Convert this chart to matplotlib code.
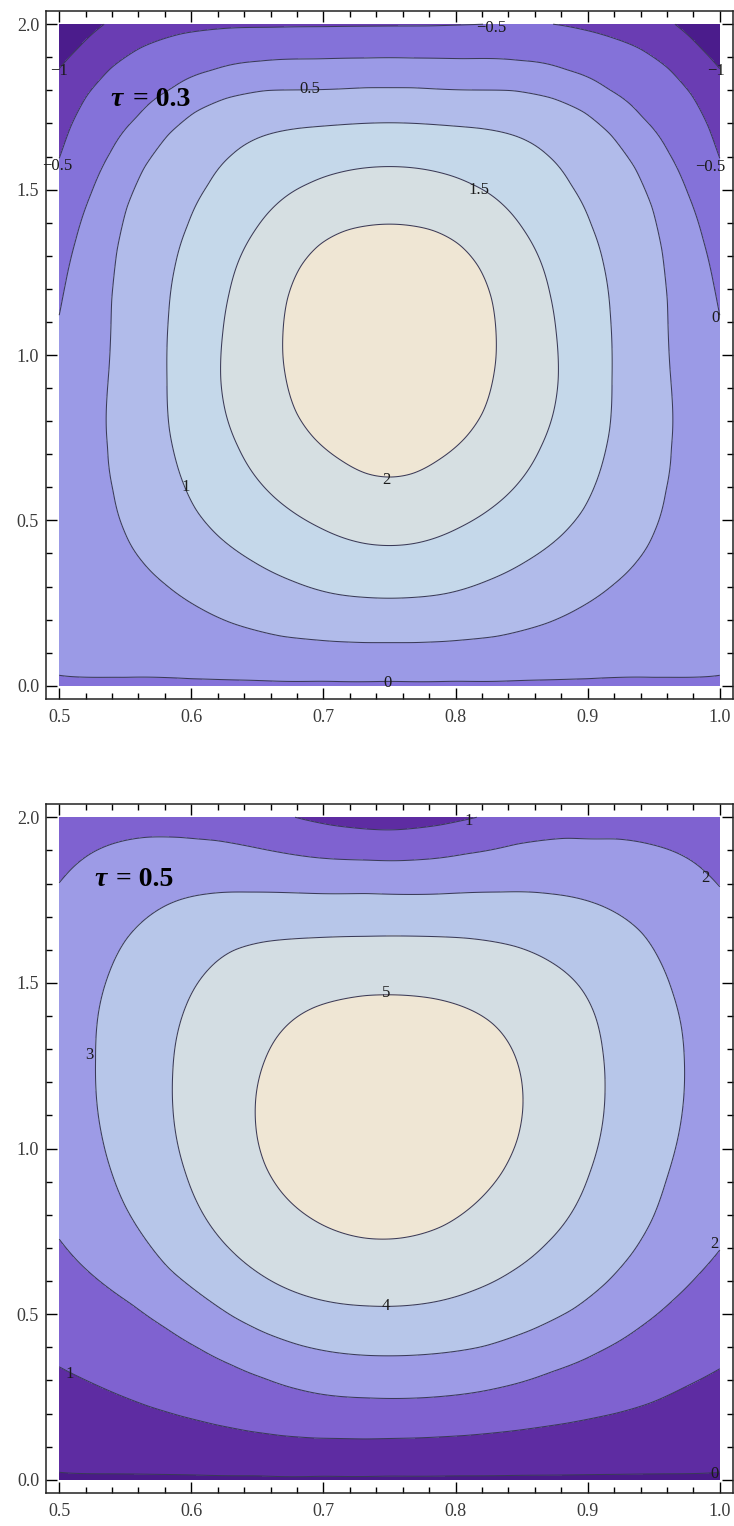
import numpy as np
import matplotlib
matplotlib.use("Agg")
import matplotlib.pyplot as plt
from matplotlib.ticker import MultipleLocator, FormatStrFormatter
from matplotlib.offsetbox import TextArea, HPacker, AnnotationBbox

# ---- values ----------------------------------------------------------------
# points (x, y) lying on each contour line, per panel and level

# tau = 0.3 panel
TOP_LEVELS = [-1, -0.5, 0, 0.5, 1, 1.5, 2]
TOP_M1 = [(0.535, 2.0), (0.515, 1.924), (0.5, 1.859),
          (0.965, 2.0), (0.985, 1.924), (1.0, 1.859)]
TOP_M05 = [(0.5, 1.585), (0.508, 1.692), (0.52, 1.793), (0.538, 1.874), (0.561, 1.934),
           (0.593, 1.975), (0.631, 1.99), (0.7, 1.992), (0.78, 1.994), (0.83, 2.0),
           (1.0, 1.585), (0.992, 1.692), (0.98, 1.793), (0.962, 1.874), (0.939, 1.934),
           (0.907, 1.975), (0.878, 2.0)]
TOP_0 = [(0.5, 1.106), (0.505, 1.217), (0.513, 1.348), (0.525, 1.49), (0.54, 1.611),
         (0.561, 1.712), (0.586, 1.793), (0.616, 1.853), (0.651, 1.884), (0.694, 1.894),
         (0.732, 1.896),
         (1.0, 1.106), (0.995, 1.217), (0.987, 1.348), (0.975, 1.49), (0.96, 1.611),
         (0.939, 1.712), (0.914, 1.793), (0.884, 1.853), (0.849, 1.884), (0.806, 1.894),
         (0.768, 1.896),
         (0.5, 0.015), (0.55, 0.013), (0.6, 0.012), (0.65, 0.011), (0.7, 0.01),
         (0.75, 0.01), (0.8, 0.01), (0.85, 0.011), (0.9, 0.012), (0.95, 0.013), (1.0, 0.015)]
TOP_05 = [(0.538, 0.965), (0.539, 1.167), (0.543, 1.318), (0.55, 1.449), (0.563, 1.571),
          (0.581, 1.672), (0.601, 1.742), (0.626, 1.783), (0.656, 1.805), (0.732, 1.811),
          (0.538, 0.722), (0.542, 0.591), (0.55, 0.47), (0.563, 0.379), (0.581, 0.308),
          (0.606, 0.237), (0.631, 0.187), (0.669, 0.146), (0.707, 0.133), (0.732, 0.129),
          (0.962, 0.965), (0.961, 1.167), (0.957, 1.318), (0.95, 1.449), (0.937, 1.571),
          (0.919, 1.672), (0.899, 1.742), (0.874, 1.783), (0.844, 1.805), (0.768, 1.811),
          (0.962, 0.722), (0.958, 0.591), (0.95, 0.47), (0.937, 0.379), (0.919, 0.308),
          (0.894, 0.237), (0.869, 0.187), (0.831, 0.146), (0.793, 0.133), (0.768, 0.129)]
TOP_1 = [(0.582, 0.924), (0.583, 1.116), (0.588, 1.268), (0.598, 1.389), (0.614, 1.51),
         (0.631, 1.601), (0.654, 1.662), (0.682, 1.687), (0.732, 1.7),
         (0.583, 0.773), (0.591, 0.641), (0.603, 0.53), (0.621, 0.449), (0.646, 0.379),
         (0.677, 0.318), (0.707, 0.278), (0.732, 0.268),
         (0.918, 0.924), (0.917, 1.116), (0.912, 1.268), (0.902, 1.389), (0.886, 1.51),
         (0.869, 1.601), (0.846, 1.662), (0.818, 1.687), (0.768, 1.7),
         (0.917, 0.773), (0.909, 0.641), (0.897, 0.53), (0.879, 0.449), (0.854, 0.379),
         (0.823, 0.318), (0.793, 0.278), (0.768, 0.268)]
TOP_15 = [(0.622, 0.924), (0.624, 1.066), (0.629, 1.187), (0.636, 1.288), (0.649, 1.379),
          (0.666, 1.46), (0.689, 1.515), (0.712, 1.551), (0.732, 1.566),
          (0.626, 0.823), (0.636, 0.722), (0.651, 0.621), (0.672, 0.54), (0.697, 0.48),
          (0.732, 0.429),
          (0.878, 0.924), (0.876, 1.066), (0.871, 1.187), (0.864, 1.288), (0.851, 1.379),
          (0.834, 1.46), (0.811, 1.515), (0.788, 1.551), (0.768, 1.566),
          (0.874, 0.823), (0.864, 0.722), (0.849, 0.621), (0.828, 0.54), (0.803, 0.48),
          (0.768, 0.429)]
TOP_2 = [(0.669, 0.997), (0.672, 1.167), (0.682, 1.268), (0.697, 1.338), (0.717, 1.379),
         (0.732, 1.389), (0.672, 0.924), (0.679, 0.823), (0.694, 0.742), (0.714, 0.682),
         (0.732, 0.639),
         (0.831, 0.997), (0.828, 1.167), (0.818, 1.268), (0.803, 1.338), (0.783, 1.379),
         (0.768, 1.389), (0.828, 0.924), (0.821, 0.823), (0.806, 0.742), (0.786, 0.682),
         (0.768, 0.639), (0.75, 0.63)]
# estimated values away from the lines (x, y, value)
TOP_EXTRA = [(0.75, 1.01, 2.25), (0.5, 2.0, -1.35), (1.0, 2.0, -1.35),
             (0.66, 2.0, -0.55), (0.74, 2.0, -0.53), (0.855, 2.0, -0.47),
             (0.5, 0.3, 0.3), (0.5, 0.7, 0.3), (1.0, 0.3, 0.3), (1.0, 0.7, 0.3),
             (0.5, 0.0, -0.08), (0.55, 0.0, -0.08), (0.6, 0.0, -0.08), (0.65, 0.0, -0.08),
             (0.7, 0.0, -0.08), (0.75, 0.0, -0.08), (0.8, 0.0, -0.08), (0.85, 0.0, -0.08),
             (0.9, 0.0, -0.08), (0.95, 0.0, -0.08), (1.0, 0.0, -0.08)]

# tau = 0.5 panel
BOT_LEVELS = [0, 1, 2, 3, 4, 5]
BOT_0 = [(0.5, 0.014), (0.55, 0.013), (0.6, 0.012), (0.65, 0.011), (0.7, 0.01),
         (0.75, 0.01), (0.8, 0.01), (0.85, 0.011), (0.9, 0.012), (0.95, 0.013), (1.0, 0.014)]
BOT_1 = [(0.677, 2.0), (0.707, 1.974), (0.732, 1.964), (0.757, 1.961), (0.788, 1.974),
         (0.821, 2.0),
         (0.5, 0.34), (0.518, 0.305), (0.543, 0.259), (0.568, 0.219), (0.593, 0.189),
         (0.619, 0.163), (0.644, 0.143), (0.669, 0.13), (0.694, 0.123), (0.732, 0.121),
         (0.77, 0.125), (0.808, 0.133), (0.846, 0.148), (0.884, 0.169), (0.921, 0.199),
         (0.947, 0.229), (0.972, 0.279), (1.0, 0.335)]
BOT_2 = [(0.5, 1.792), (0.518, 1.873), (0.543, 1.923), (0.568, 1.942), (0.593, 1.943),
         (0.619, 1.933), (0.644, 1.913), (0.669, 1.893), (0.694, 1.878), (0.732, 1.873),
         (0.77, 1.873), (0.808, 1.893), (0.846, 1.923), (0.884, 1.942), (0.921, 1.939),
         (0.947, 1.918), (0.972, 1.883), (0.989, 1.833), (1.0, 1.782),
         (0.5, 0.728), (0.513, 0.663), (0.53, 0.602), (0.556, 0.532), (0.581, 0.461),
         (0.606, 0.4), (0.631, 0.35), (0.656, 0.31), (0.682, 0.274), (0.707, 0.254),
         (0.732, 0.249), (0.795, 0.254), (0.833, 0.279), (0.873, 0.33), (0.909, 0.39),
         (0.939, 0.461), (0.964, 0.542), (0.984, 0.622), (1.0, 0.693)]
BOT_3 = [(0.533, 1.026), (0.528, 1.268), (0.53, 1.419), (0.538, 1.53), (0.55, 1.631),
         (0.568, 1.701), (0.588, 1.747), (0.611, 1.767), (0.644, 1.772), (0.682, 1.772),
         (0.732, 1.772), (0.783, 1.767), (0.833, 1.772), (0.871, 1.767), (0.896, 1.752),
         (0.921, 1.712), (0.942, 1.651), (0.954, 1.57), (0.964, 1.47), (0.971, 1.369),
         (0.973, 1.268), (0.973, 1.167), (0.968, 1.026), (0.959, 0.905), (0.949, 0.784),
         (0.934, 0.683), (0.914, 0.592), (0.889, 0.511), (0.858, 0.451), (0.821, 0.4),
         (0.783, 0.38), (0.732, 0.375), (0.707, 0.385), (0.682, 0.405), (0.656, 0.441),
         (0.631, 0.491), (0.606, 0.562), (0.583, 0.632), (0.566, 0.723), (0.55, 0.824),
         (0.54, 0.925)]
BOT_4 = [(0.589, 1.026), (0.586, 1.218), (0.588, 1.318), (0.596, 1.429), (0.611, 1.53),
         (0.631, 1.601), (0.656, 1.626), (0.694, 1.636), (0.732, 1.639), (0.77, 1.641),
         (0.808, 1.636), (0.846, 1.611), (0.873, 1.56), (0.894, 1.49), (0.906, 1.399),
         (0.911, 1.298), (0.913, 1.187), (0.909, 1.026), (0.901, 0.925), (0.889, 0.814),
         (0.868, 0.713), (0.843, 0.632), (0.813, 0.572), (0.783, 0.536), (0.732, 0.526),
         (0.712, 0.532), (0.689, 0.552), (0.664, 0.592), (0.641, 0.653), (0.621, 0.733),
         (0.606, 0.824), (0.596, 0.925)]
BOT_5 = [(0.65, 1.026), (0.649, 1.167), (0.656, 1.268), (0.672, 1.369), (0.694, 1.429),
         (0.719, 1.454), (0.732, 1.464), (0.757, 1.464), (0.783, 1.454), (0.808, 1.424),
         (0.828, 1.379), (0.843, 1.298), (0.85, 1.207), (0.851, 1.116), (0.847, 1.026),
         (0.835, 0.925), (0.815, 0.834), (0.79, 0.763), (0.757, 0.728), (0.732, 0.728),
         (0.712, 0.748), (0.689, 0.794), (0.669, 0.864), (0.656, 0.945)]
BOT_EXTRA = [(0.75, 1.1, 5.5), (0.5, 2.0, 1.6), (0.6, 2.0, 1.5), (0.745, 2.0, 0.6),
             (0.9, 2.0, 1.5), (1.0, 2.0, 1.6), (0.5, 1.25, 2.6), (1.0, 1.2, 2.6),
             (0.5, 0.0, -0.12), (0.55, 0.0, -0.12), (0.6, 0.0, -0.12), (0.65, 0.0, -0.12),
             (0.7, 0.0, -0.12), (0.75, 0.0, -0.12), (0.8, 0.0, -0.12), (0.85, 0.0, -0.12),
             (0.9, 0.0, -0.12), (0.95, 0.0, -0.12), (1.0, 0.0, -0.12)]

# contour labels: (text, x, y)
TOP_LABELS = [("\u22120.5", 0.827, 1.99), ("\u22121", 0.5, 1.858), ("\u22120.5", 0.4985, 1.57),
              ("0.5", 0.69, 1.803), ("1.5", 0.818, 1.5), ("\u22121", 0.997, 1.858),
              ("\u22120.5", 0.993, 1.567), ("0", 0.997, 1.112), ("2", 0.7474, 0.621),
              ("1", 0.5958, 0.601), ("0", 0.7486, 0.008)]
BOT_LABELS = [("1", 0.81, 1.989), ("2", 0.9894, 1.818), ("3", 0.5227, 1.283),
              ("5", 0.7474, 1.47), ("4", 0.7474, 0.526), ("2", 0.9957, 0.713),
              ("1", 0.5076, 0.32), ("0", 0.9957, 0.017)]

TOP_COLORS = ["#4b1c8c", "#6a3db3", "#8472d9", "#9b9ae6", "#b1bbea",
              "#c5d8ea", "#d6dfe2", "#efe6d4"]
BOT_COLORS = ["#4a1a88", "#5e2ca2", "#7f62d0", "#9d9be6", "#b7c6e9",
              "#d3dde3", "#efe6d4"]

SERIF = ["Liberation Serif", "DejaVu Serif"]


def collect(groups, extra):
    xs, ys, vs = [], [], []
    for level, pts in groups:
        for x, y in pts:
            xs.append(x); ys.append(y); vs.append(level)
    for x, y, v in extra:
        xs.append(x); ys.append(y); vs.append(v)
    return np.array(xs), np.array(ys), np.array(vs, dtype=float)


def tps_surface(xs, ys, vs, gx, gy, lam=1e-2):
    # smoothing thin plate spline through the read points;
    # x scaled by 4 so the plotted square is isotropic
    sx, sy = (xs - 0.5) * 4.0, ys
    n = len(xs)
    d = np.hypot(sx[:, None] - sx[None, :], sy[:, None] - sy[None, :])
    with np.errstate(divide="ignore", invalid="ignore"):
        K = np.where(d > 0, d ** 2 * np.log(d), 0.0)
    A = np.zeros((n + 3, n + 3))
    A[:n, :n] = K + lam * np.eye(n)
    P = np.column_stack([np.ones(n), sx, sy])
    A[:n, n:] = P
    A[n:, :n] = P.T
    b = np.concatenate([vs, np.zeros(3)])
    sol = np.linalg.solve(A, b)
    w, a = sol[:n], sol[n:]
    GX, GY = np.meshgrid(gx, gy)
    qx, qy = ((GX - 0.5) * 4.0).ravel(), GY.ravel()
    dq = np.hypot(qx[:, None] - sx[None, :], qy[:, None] - sy[None, :])
    with np.errstate(divide="ignore", invalid="ignore"):
        Kq = np.where(dq > 0, dq ** 2 * np.log(dq), 0.0)
    Z = Kq @ w + a[0] + a[1] * qx + a[2] * qy
    return GX, GY, Z.reshape(GX.shape)


def draw_panel(ax, groups, extra, levels, colors, labels, tau, title_xy):
    xs, ys, vs = collect(groups, extra)
    gx = np.linspace(0.5, 1.0, 301)
    gy = np.linspace(0.0, 2.0, 401)
    GX, GY, Z = tps_surface(xs, ys, vs, gx, gy)
    ax.contourf(GX, GY, Z, levels=[-100] + list(levels) + [100], colors=colors)
    # solid lines for negative levels too (matplotlib dashes them by default)
    ax.contour(GX, GY, Z, levels=levels, colors="#3a3a58", linewidths=0.75,
               linestyles="solid")
    for txt, x, y in labels:
        ax.text(x, y, txt, ha="center", va="center", fontsize=12, color="#1a1a1a",
                family=SERIF, zorder=5)

    # "tau = ..." with an italic tau
    parts = [TextArea("\u03c4", textprops=dict(fontsize=20, fontweight="bold",
                                               fontstyle="italic", family=SERIF)),
             TextArea("= " + tau, textprops=dict(fontsize=20, fontweight="bold",
                                                 family=SERIF))]
    box = HPacker(children=parts, align="baseline", pad=0, sep=7)
    ab = AnnotationBbox(box, title_xy, xycoords="data", frameon=False,
                        box_alignment=(0.0, 0.5), pad=0, zorder=6)
    ax.add_artist(ab)

    ax.set_xlim(0.49, 1.01)
    ax.set_ylim(-0.04, 2.04)
    ax.xaxis.set_major_locator(MultipleLocator(0.1))
    ax.xaxis.set_minor_locator(MultipleLocator(0.02))
    ax.yaxis.set_major_locator(MultipleLocator(0.5))
    ax.yaxis.set_minor_locator(MultipleLocator(0.1))
    ax.xaxis.set_major_formatter(FormatStrFormatter("%.1f"))
    ax.yaxis.set_major_formatter(FormatStrFormatter("%.1f"))
    ax.tick_params(which="both", direction="in", top=True, right=True,
                   labelsize=13, labelcolor="#3a3a3a", width=1.0)
    ax.tick_params(axis="x", which="major", pad=7)
    ax.tick_params(axis="y", which="major", pad=5)
    ax.tick_params(which="major", length=8)
    ax.tick_params(which="minor", length=4.5)
    for s in ax.spines.values():
        s.set_linewidth(1.1)
        s.set_color("#222222")
    for lab in ax.get_xticklabels() + ax.get_yticklabels():
        lab.set_family(SERIF)


plt.rcParams["font.family"] = SERIF
fig = plt.figure(figsize=(7.34, 15.26), dpi=100)
ax1 = fig.add_axes([46 / 734, 1 - 699 / 1526, 687 / 734, 688 / 1526])
ax2 = fig.add_axes([46 / 734, 1 - 1493 / 1526, 687 / 734, 689 / 1526])

top_groups = [(-1, TOP_M1), (-0.5, TOP_M05), (0, TOP_0), (0.5, TOP_05),
              (1, TOP_1), (1.5, TOP_15), (2, TOP_2)]
bot_groups = [(0, BOT_0), (1, BOT_1), (2, BOT_2), (3, BOT_3), (4, BOT_4), (5, BOT_5)]

draw_panel(ax1, top_groups, TOP_EXTRA, TOP_LEVELS, TOP_COLORS, TOP_LABELS,
           "0.3", (0.539, 1.773))
draw_panel(ax2, bot_groups, BOT_EXTRA, BOT_LEVELS, BOT_COLORS, BOT_LABELS,
           "0.5", (0.5265, 1.812))

fig.savefig("out.png", dpi=100)
